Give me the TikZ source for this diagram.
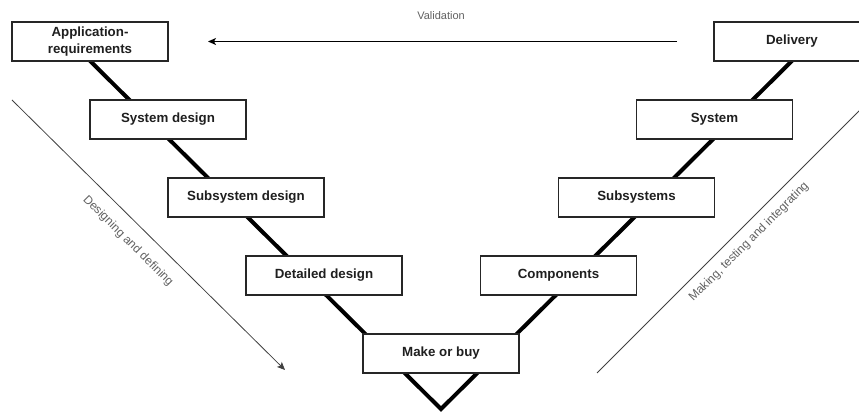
\documentclass[tikz,border=0pt]{standalone}
\usepackage{fontspec}
\setmainfont{Liberation Sans}
\usetikzlibrary{arrows.meta}
\begin{document}
\begin{tikzpicture}[x=1pt,y=-1pt,
  stage/.style={draw=black!85, line width=1.1pt, fill=white,
    minimum width=156pt, minimum height=39pt, inner sep=0pt,
    font=\fontsize{13.3}{16.5}\selectfont\bfseries, text=black!88, align=center},
  vline/.style={line width=4pt, line join=miter, black},
  phase/.style={draw=black!75, line width=0.8pt},
  phaselabel/.style={text=black!62, font=\fontsize{12}{14}\selectfont, inner sep=0pt},
  tip/.style={-{Stealth[length=8pt,width=7pt,inset=2pt]}}]
\useasboundingbox (0,0) rectangle (859,414);

% the V path behind the stages
\coordinate (v-l) at (70,41);
\coordinate (v-tip) at (441,409);
\coordinate (v-r) at (812,41);
\draw[vline] (v-l) -- (v-tip) -- (v-r);

% stages
\node[stage] (app)  at (90,41.5)    {Application-\\requirements};
\node[stage] (sd)   at (168,119.5)  {System design};
\node[stage] (ssd)  at (246,197.5)  {Subsystem design};
\node[stage] (dd)   at (324,275.5)  {Detailed design};
\node[stage] (mob)  at (441,353.5)  {Make or buy};
\node[stage] (comp) at (558.5,275.5){Components};
\node[stage] (subs) at (636.5,197.5){Subsystems};
\node[stage] (sys)  at (714.5,119.5){System};
\node[stage] (dl)   at (792,41.5)   {Delivery};

% validation loop
\coordinate (val-from) at (677,41.5);
\coordinate (val-to) at (208,41.5);
\draw[black, line width=0.9pt, tip] (val-from) -- (val-to);
\node[phaselabel, font=\fontsize{11}{13}\selectfont] (val) at (441,16) {Validation};

% phase directions
\coordinate (dg-l-a) at (12,100);
\coordinate (dg-l-b) at (285,370);
\draw[phase, tip] (dg-l-a) -- (dg-l-b);
\node[phaselabel, rotate=-45] (dgl-text) at (128,241) {Designing and defining};

\coordinate (dg-r-a) at (597,373);
\coordinate (dg-r-b) at (870,100);
\draw[phase] (dg-r-a) -- (dg-r-b);
\node[phaselabel, rotate=45] (dgr-text) at (749,242) {Making, testing and integrating};
\end{tikzpicture}
\end{document}
